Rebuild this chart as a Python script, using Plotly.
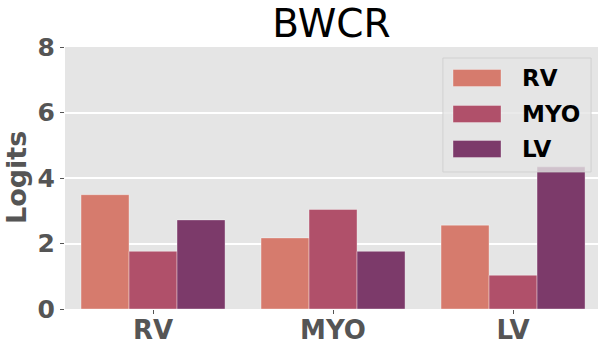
import plotly.graph_objects as go

categories = ["RV", "MYO", "LV"]
series_names = ["RV", "MYO", "LV"]
values_rv = [3.49, 2.17, 2.56]
values_myo = [1.76, 3.04, 1.03]
values_lv = [2.72, 1.76, 4.34]
colors = ["#d67b6d", "#b0506a", "#7c3a6a"]
y_ticks = [0, 2, 4, 6, 8]

series_values = [values_rv, values_myo, values_lv]

fig = go.Figure()
for name, vals, col in zip(series_names, series_values, colors):
    fig.add_trace(go.Bar(
        x=categories, y=vals, name=name,
        marker=dict(color=col, line=dict(color="rgba(255,255,255,0.35)", width=1)),
        showlegend=False,
    ))

# custom legend (matplotlib-like wide patches)
shapes = [dict(type="rect", xref="paper", yref="paper", x0=0.709, x1=0.987, y0=0.523, y1=0.958,
               fillcolor="rgba(229,229,229,0.8)", line=dict(color="rgba(205,205,205,0.8)", width=1),
               layer="above")]
annotations = []
row_y = [(309 - 78) / 262, (309 - 114) / 262, (309 - 149) / 262]
for name, col, yc in zip(series_names, colors, row_y):
    shapes.append(dict(type="rect", xref="paper", yref="paper", x0=0.728, x1=0.818,
                       y0=yc - 8.5 / 262, y1=yc + 8.5 / 262, fillcolor=col,
                       line=dict(color="rgba(255,255,255,0.3)", width=1), layer="above"))
    annotations.append(dict(text="<b>%s</b>" % name, xref="paper", yref="paper", x=0.853, y=yc,
                            xanchor="left", yanchor="middle", showarrow=False,
                            font=dict(family="DejaVu Sans", size=23, color="black")))

# y-axis title
annotations.append(dict(text="<b>Logits</b>", xref="paper", yref="paper",
                        x=-(65 - 16) / 533, y=(309 - 178) / 262, xanchor="center", yanchor="middle",
                        textangle=-90, showarrow=False,
                        font=dict(family="DejaVu Sans", size=27, color="#555555")))

fig.update_layout(
    width=598, height=348,
    margin=dict(l=65, r=0, t=47, b=39, autoexpand=False),
    paper_bgcolor="white", plot_bgcolor="#e5e5e5",
    barmode="group", bargap=0.2, bargroupgap=0,
    title=dict(text="BWCR", x=0.5, xref="paper", y=1 - 23 / 348, yref="container",
               xanchor="center", yanchor="middle",
               font=dict(family="DejaVu Sans", size=39, color="black")),
    font=dict(family="DejaVu Sans"),
    shapes=shapes, annotations=annotations,
)
fig.update_xaxes(range=[-0.489, 2.472], showgrid=False, zeroline=False, automargin=False,
                 ticks="outside", ticklen=4, tickcolor="#555555", ticklabelstandoff=-6,
                 tickfont=dict(family="DejaVu Sans", size=26, color="#555555", weight="bold"))
fig.update_yaxes(range=[0, 8], tickvals=y_ticks, showgrid=True, gridcolor="white", gridwidth=1.5,
                 zeroline=False, ticks="outside", ticklen=4, tickcolor="#555555", automargin=False,
                 tickfont=dict(family="DejaVu Sans", size=25, color="#555555", weight="bold"))

fig.write_html("out.html", config={"displayModeBar": False},
               post_script="document.body.style.margin='0';document.body.style.overflow='hidden';")
